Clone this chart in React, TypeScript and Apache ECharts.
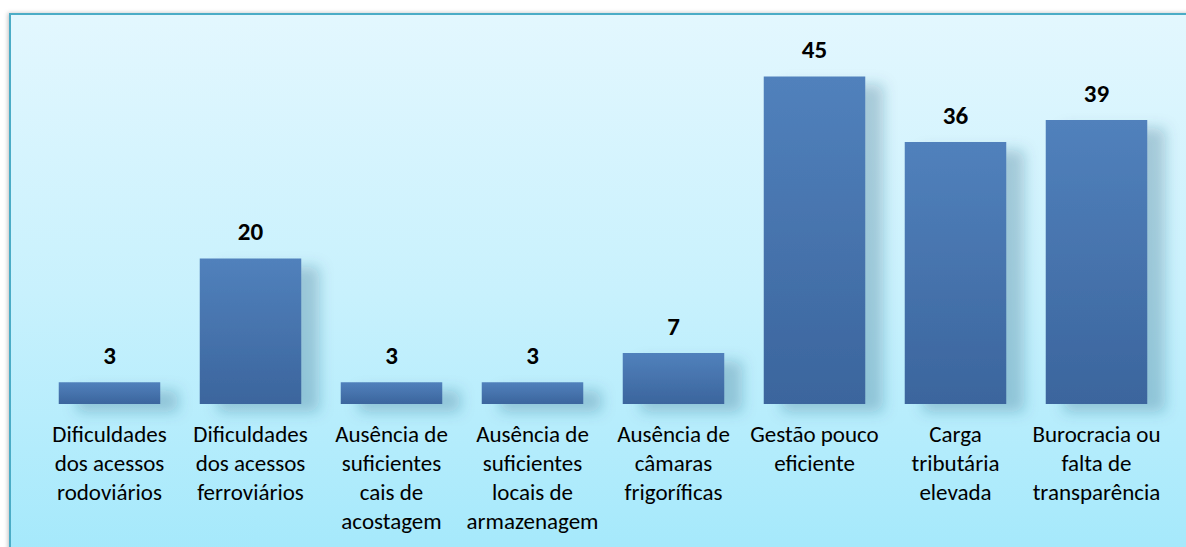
import React, { useEffect, useRef } from "react";
import * as echarts from "echarts";

const categories: string[] = [
  "Dificuldades\ndos acessos\nrodoviários",
  "Dificuldades\ndos acessos\nferroviários",
  "Ausência de\nsuficientes\ncais de\nacostagem",
  "Ausência de\nsuficientes\nlocais de\narmazenagem",
  "Ausência de\ncâmaras\nfrigoríficas",
  "Gestão pouco\neficiente",
  "Carga\ntributária\nelevada",
  "Burocracia ou\nfalta de\ntransparência",
];

const values: number[] = [3, 20, 3, 3, 7, 45, 36, 39];

const FONT = "Carlito, Lato, 'Open Sans', sans-serif";

export default function App() {
  const ref = useRef<HTMLDivElement>(null);
  useEffect(() => {
    document.body.style.margin = "0";
    const chart = echarts.init(ref.current!, null, { renderer: "svg" });
    chart.setOption({
      animation: false,
      backgroundColor: "#ffffff",
      graphic: [
        {
          type: "rect",
          z: -10,
          shape: { x: 10, y: 14, width: 1200, height: 560 },
          style: {
            fill: new echarts.graphic.LinearGradient(0, 0, 0, 1, [
              { offset: 0, color: "#e3f7fe" },
              { offset: 0.5, color: "#c8f1fd" },
              { offset: 1, color: "#a2e8fb" },
            ]),
            stroke: "#4bacc6",
            lineWidth: 2,
            shadowBlur: 4,
            shadowColor: "rgba(0,0,0,0.25)",
            shadowOffsetX: -1,
          },
        },
      ],
      grid: { left: 39, right: 19, top: 40, bottom: 143, containLabel: false },
      xAxis: {
        type: "category",
        data: categories,
        axisLine: { show: false },
        axisTick: { show: false },
        axisLabel: {
          interval: 0,
          margin: 15,
          fontFamily: FONT,
          fontSize: 23,
          lineHeight: 29,
          color: "#000000",
        },
      },
      yAxis: {
        type: "value",
        min: 0,
        max: 50,
        show: false,
        splitLine: { show: false },
      },
      series: [
        {
          type: "bar",
          data: values,
          barWidth: "72%",
          itemStyle: {
            color: new echarts.graphic.LinearGradient(0, 0, 0, 1, [
              { offset: 0, color: "#5181bc" },
              { offset: 1, color: "#3b659d" },
            ]),
            shadowBlur: 14,
            shadowOffsetX: 18,
            shadowOffsetY: 8,
            shadowColor: "rgba(40,90,120,0.28)",
          },
          label: {
            show: true,
            position: "top",
            distance: 14,
            fontFamily: FONT,
            fontSize: 25,
            fontWeight: "bold",
            color: "#000000",
          },
        },
      ],
    });
    return () => chart.dispose();
  }, []);
  return <div ref={ref} style={{ width: 1186, height: 547 }} />;
}
